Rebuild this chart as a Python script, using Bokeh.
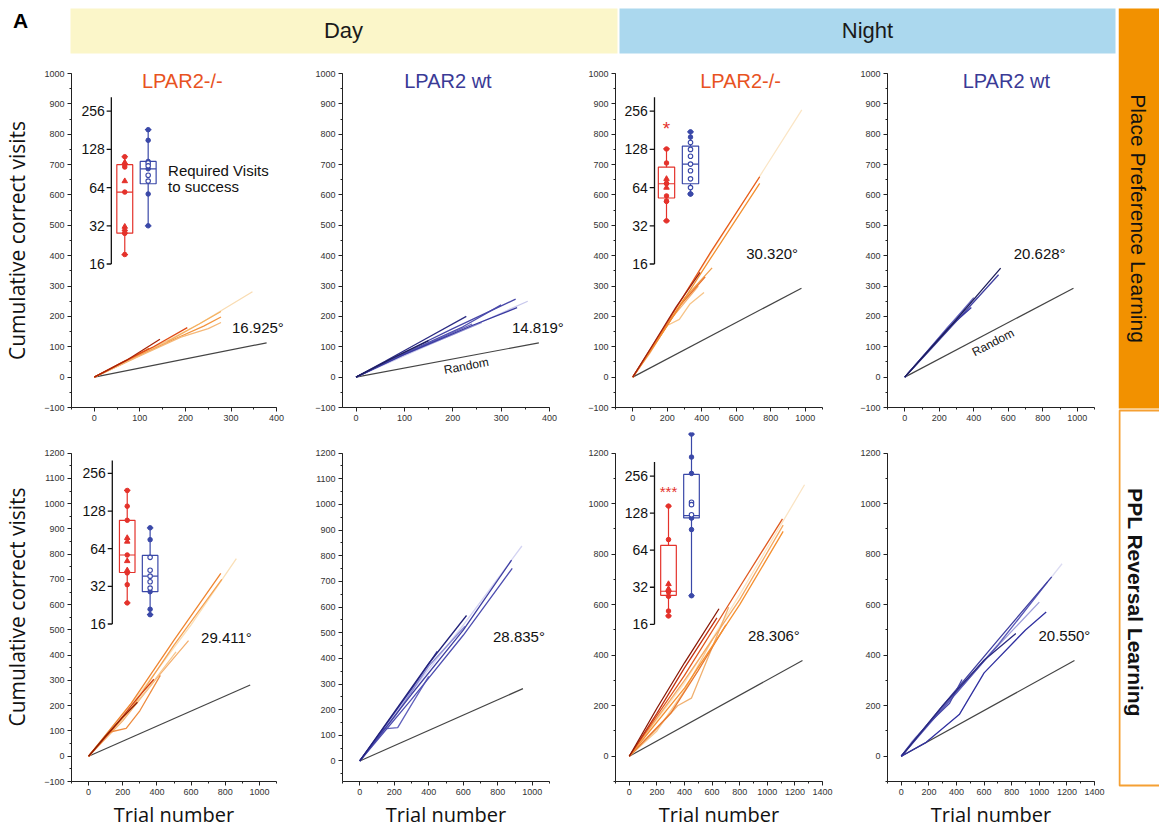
import math
from bokeh.plotting import figure
from bokeh.models import Range1d, LogScale, SingleIntervalTicker, Label
from bokeh.layouts import row, column
from bokeh.embed import file_html
from bokeh.resources import INLINE
from bokeh.core.properties import value

# ----------------------------- data -----------------------------
# Panel 1: Day, Place Preference Learning, LPAR2-/-
P1_X = [[0, 60, 140, 230, 347], [0, 80, 170, 230, 278], [0, 90, 180, 240, 278], [0, 100, 190, 250, 278],
        [0, 50, 100, 160], [0, 40, 80, 120], [0, 60, 130, 204], [0, 70, 144]]
P1_Y = [[0, 42, 105, 175, 281], [0, 60, 125, 175, 216], [0, 65, 128, 168, 198], [0, 70, 132, 160, 180],
        [0, 36, 78, 118], [0, 30, 62, 95], [0, 48, 100, 163], [0, 55, 125]]
# Panel 2: Day, PPL, LPAR2 wt
P2_X = [[0, 120, 250, 355], [0, 90, 200, 260], [0, 80, 170, 240], [0, 100, 220, 300],
        [0, 100, 240, 333], [0, 100, 200, 330], [0, 60, 120, 228], [0, 70, 150]]
P2_Y = [[0, 85, 175, 250], [0, 68, 140, 180], [0, 62, 125, 175], [0, 78, 165, 238],
        [0, 75, 170, 229], [0, 82, 160, 257], [0, 52, 105, 200], [0, 58, 120]]
# Panel 3: Night, PPL, LPAR2-/-
P3_X = [[0, 300, 600, 980], [0, 120, 200, 270, 330, 413], [0, 100, 220, 380], [0, 150, 300, 460],
        [0, 130, 280, 420], [0, 200, 450, 736], [0, 200, 450, 736], [0, 120, 250, 390]]
P3_Y = [[0, 270, 540, 880], [0, 100, 170, 190, 240, 279], [0, 80, 190, 300], [0, 130, 260, 360],
        [0, 110, 240, 330], [0, 170, 390, 638], [0, 180, 410, 660], [0, 110, 230, 345]]
# Panel 4: Night, PPL, LPAR2 wt
P4_X = [[0, 100, 200, 420], [0, 120, 250, 390], [0, 130, 260, 400], [0, 120, 240, 350],
        [0, 100, 250, 386], [0, 150, 300, 544], [0, 150, 300, 556]]
P4_Y = [[0, 62, 130, 265], [0, 78, 165, 250], [0, 85, 170, 262], [0, 75, 150, 225],
        [0, 65, 160, 229], [0, 92, 185, 337], [0, 95, 190, 359]]
# Panel 5: Day, Reversal, LPAR2-/-
P5_X = [[0, 300, 600, 865], [0, 200, 400, 585], [0, 150, 350, 512], [0, 120, 220, 300, 420],
        [0, 250, 500, 780], [0, 250, 500, 774], [0, 150, 280, 382], [0, 100, 200, 286]]
P5_Y = [[0, 250, 520, 782], [0, 140, 310, 458], [0, 110, 270, 413], [0, 95, 110, 180, 320],
        [0, 190, 440, 700], [0, 210, 460, 724], [0, 115, 225, 305], [0, 80, 155, 214]]
# Panel 6: Day, Reversal, LPAR2 wt
P6_X = [[0, 300, 600, 940], [0, 200, 400, 610], [0, 140, 220, 300, 400], [0, 300, 600, 884],
        [0, 300, 600, 880], [0, 150, 300, 449], [0, 200, 400, 619]]
P6_Y = [[0, 270, 530, 838], [0, 170, 370, 525], [0, 125, 130, 220, 330], [0, 240, 490, 751],
        [0, 260, 510, 783], [0, 140, 280, 427], [0, 190, 380, 567]]
# Panel 7: Night, Reversal, LPAR2-/-
P7_X = [[0, 400, 800, 1270], [0, 200, 400, 600], [0, 200, 350, 450, 720], [0, 300, 500, 700],
        [0, 400, 800, 1115], [0, 400, 800, 1115], [0, 400, 800, 1110], [0, 200, 400, 635], [0, 200, 400, 650]]
P7_Y = [[0, 290, 640, 1075], [0, 100, 260, 460], [0, 110, 200, 230, 590], [0, 170, 340, 520],
        [0, 270, 600, 890], [0, 300, 620, 915], [0, 320, 670, 940], [0, 170, 350, 548], [0, 190, 370, 584]]
# Panel 8: Night, Reversal, LPAR2 wt
P8_X = [[0, 400, 800, 1165], [0, 80, 300, 600, 1000], [0, 100, 400, 700], [0, 300, 700, 1060],
        [0, 300, 700, 1090], [0, 200, 350, 440], [0, 300, 600, 830], [0, 180, 420, 600, 900, 1050]]
P8_Y = [[0, 250, 510, 762], [0, 60, 190, 380, 610], [0, 70, 250, 440], [0, 190, 440, 690],
        [0, 200, 460, 710], [0, 130, 210, 304], [0, 200, 380, 486], [0, 55, 165, 330, 500, 571]]

# Random-choice reference lines (start, end)
RANDOM_PPL_DAY_X = [0, 378]
RANDOM_PPL_DAY_Y = [0, 113]
RANDOM_PPL_NIGHT_X = [0, 978]
RANDOM_PPL_NIGHT_Y = [0, 293]
RANDOM_REV_DAY_X = [0, 946]
RANDOM_REV_DAY_Y = [0, 282]
RANDOM_REV_NIGHT_X = [0, 1255]
RANDOM_REV_NIGHT_Y = [0, 379]

ANGLES = ["16.925°", "14.819°", "30.320°", "20.628°", "29.411°", "28.835°", "28.306°", "20.550°"]

# Inset: required visits to success (log2 axis)
INSET_TICKS = [16, 32, 64, 128, 256]
INSET_TICK_LABELS = ["16", "32", "64", "128", "256"]
# box = [min, q1, median, q3, max]
P1_RED_BOX = [19, 28, 59, 97, 112]
P1_RED_DOTS = [112, 97, 93, 59, 28, 28, 19]
P1_RED_TRI = [101, 72, 30, 31.5]
P1_BLUE_BOX = [32, 68.6, 90, 103, 183]
P1_BLUE_DOTS = [183, 151, 103, 90, 57, 32]
P1_BLUE_OPEN = [100, 95, 80, 72]

P3_RED_BOX = [35, 53, 68.6, 92.7, 129]
P3_RED_DOTS = [129, 100, 69, 69, 55, 50, 50, 35]
P3_RED_TRI = [75, 64]
P3_BLUE_BOX = [57, 68.6, 98, 136, 176]
P3_BLUE_DOTS = [176, 160, 57, 57]
P3_BLUE_OPEN = [145, 128, 113, 98, 87, 75, 64]

P5_RED_BOX = [23.6, 41.3, 57, 108, 187]
P5_RED_DOTS = [187, 140, 108, 57, 41, 33, 23.6]
P5_RED_TRI = [78, 73, 51, 43]
P5_BLUE_BOX = [19, 29, 38.6, 56.5, 94]
P5_BLUE_DOTS = [94, 75.6, 29, 21, 19]
P5_BLUE_OPEN = [54.6, 43, 38.6, 34.8, 31]

P7_RED_BOX = [18.7, 27.5, 29.7, 70, 146]
P7_RED_DOTS = [146, 78, 29.5, 29.5, 29.5, 27, 20.5, 18.7]
P7_RED_TRI = [34, 31]
P7_BLUE_BOX = [27.3, 117, 122, 264, 561]
P7_BLUE_DOTS = [561, 365, 269, 117, 117, 94, 27.3]
P7_BLUE_OPEN = [157, 150, 124]

# ----------------------------- styling -----------------------------
FONT = "Liberation Sans"
RED_TITLE = "#e8531f"
BLUE_TITLE = "#3a3a96"
BOX_RED = "#e4322b"
BOX_BLUE = "#3a48a8"

C1 = ["#f9dcb2", "#f4b060", "#f29540", "#f5b878", "#f6c48a", "#ea7430", "#e04a14", "#a82408"]
C2 = ["#c8c8ec", "#8c8cd0", "#6666bb", "#5050b0", "#3a3aa0", "#4848a8", "#2c2c84", "#1e1e5c"]
C3 = ["#fbe6c6", "#f7c488", "#f5b070", "#f0a050", "#e87028", "#f39030", "#e85a1a", "#9c2010"]
C4 = ["#c4c4ea", "#9090d0", "#6464bc", "#5050b0", "#3434a2", "#4040a0", "#1e1e5a"]
C5 = ["#fae0b8", "#f4b070", "#f7c890", "#ee8c40", "#f5a050", "#ef8530", "#d44010", "#8c1c04"]
C6 = ["#d4d4f2", "#8c8cd2", "#6262bc", "#4e4eb0", "#4040a2", "#3636a0", "#22227a"]
C7 = ["#fae4c4", "#f8c890", "#f0b070", "#e87830", "#f59030", "#f5a860", "#e05a20", "#c03010", "#8a1a08"]
C8 = ["#dcdcf2", "#a0a0da", "#7070c0", "#5a5ab8", "#4040a0", "#4848a8", "#2a2a80", "#3030a0"]


def make_panel(w, h, lb, rb, tb, bb, xr, yr, xint, yint, xs, ys, colors, rx, ry,
               angle_text, apos, title=None, tcolor=None, tx=None, ylabel=False,
               xlabel=False, random_pos=None, ext_x=False, ext_y=False):
    """xr / yr are the axis extents. With ext_x / ext_y the frame is widened into the
    right / top border so that text and inset marks may run past the axis ends."""
    fw = w - lb - rb
    fh = h - tb - bb
    ux = (xr[1] - xr[0]) / fw
    uy = (yr[1] - yr[0]) / fh
    x_end = xr[1] + (rb * ux if ext_x else 0)
    y_end = yr[1] + (tb * uy if ext_y else 0)
    p = figure(width=w, height=h, x_range=Range1d(xr[0], x_end), y_range=Range1d(yr[0], y_end),
               output_backend="svg", toolbar_location=None, title=None,
               min_border_left=lb, min_border_right=0 if ext_x else rb,
               min_border_top=0 if ext_y else tb, min_border_bottom=bb)
    p.outline_line_color = None
    p.grid.visible = False
    p.xaxis.ticker = SingleIntervalTicker(interval=xint, num_minor_ticks=2)
    p.yaxis.ticker = SingleIntervalTicker(interval=yint, num_minor_ticks=2)
    p.xaxis.bounds = xr
    p.yaxis.bounds = yr
    for ax in list(p.xaxis) + list(p.yaxis):
        ax.axis_line_color = "#222222"
        ax.major_tick_line_color = "#222222"
        ax.minor_tick_line_color = "#222222"
        ax.major_tick_in = 0
        ax.major_tick_out = 4
        ax.minor_tick_in = 0
        ax.minor_tick_out = 2
        ax.major_label_text_font_size = "9px"
        ax.major_label_text_font = FONT
        ax.major_label_text_color = "#333333"
        ax.major_label_standoff = 3
        ax.axis_label_text_font = "Open Sans"
        ax.axis_label_text_font_style = "normal"
        ax.axis_label_text_color = "#111111"
        ax.axis_label_standoff = 3
    if ylabel:
        p.yaxis.axis_label = "Cumulative correct visits"
        p.yaxis.axis_label_text_font_size = "21px"
        p.yaxis.axis_label_standoff = 10
    if xlabel:
        p.xaxis.axis_label = "Trial number"
        p.xaxis.axis_label_text_font_size = "20px"

    p.line(rx, ry, line_color="#444444", line_width=1.2)
    for x, y, c in zip(xs, ys, colors):
        p.line(x, y, line_color=c, line_width=1.3)

    p.add_layout(Label(x=apos[0], y=apos[1], text=angle_text, text_font=FONT,
                       text_font_size="15px", text_align="center", text_baseline="middle",
                       text_color="#111111"))
    if random_pos is not None:
        ang = math.atan((ry[1] / uy) / (rx[1] / ux))
        p.add_layout(Label(x=random_pos[0], y=random_pos[1], text="Random", angle=ang,
                           text_font=FONT, text_font_size="12px", text_align="center",
                           text_baseline="middle", text_color="#111111"))
    if title is not None:
        p.add_layout(Label(x=tx, y=yr[1] - 7 * uy, text=title, text_font=FONT,
                           text_font_size="20px", text_align="center",
                           text_baseline="middle", text_color=tcolor))
    # frame size in px (for the inset ranges) and extra px above the axis top
    p._frame_px = (fw + (rb if ext_x else 0), fh + (tb if ext_y else 0), tb if ext_y else 0)
    return p


def add_inset(p, red_off, spacing, axis_off, top256, ppd, axis_top,
              rbox, rdots, rtri, bbox, bdots, bopen, sig=None, sig_y=None, note=False):
    """top256: px from the axis top to the 256 tick; ppd: px per doubling."""
    frame_w, frame_h, extra_top = p._frame_px
    t256 = top256 + extra_top
    ixr = (1 - red_off / spacing, 1 + (frame_w - red_off) / spacing)
    iyr = (2 ** (8 - (frame_h - t256) / ppd), 2 ** (8 + t256 / ppd))
    axis_x = 1 - axis_off / spacing
    p.extra_x_ranges = {"ix": Range1d(*ixr)}
    p.extra_y_ranges = {"iy": Range1d(*iyr)}
    p.extra_y_scales = {"iy": LogScale()}
    kw = dict(x_range_name="ix", y_range_name="iy")
    p.segment(x0=[axis_x], y0=[INSET_TICKS[0]], x1=[axis_x], y1=[axis_top],
              line_color="#111111", line_width=1.3, **kw)
    n = len(INSET_TICKS)
    p.segment(x0=[axis_x - 0.2] * n, y0=INSET_TICKS, x1=[axis_x] * n, y1=INSET_TICKS,
              line_color="#111111", line_width=1.3, **kw)
    p.text(x=[axis_x - 0.28] * n, y=INSET_TICKS, text=INSET_TICK_LABELS,
           text_font=value(FONT), text_font_size=value("14px"), text_align="right",
           text_baseline="middle", text_color="#111111", **kw)
    hw = 0.34
    cap = 0.14
    for cx, box, col, dots, other, other_kind in (
            (1, rbox, BOX_RED, rdots, rtri, "tri"), (2, bbox, BOX_BLUE, bdots, bopen, "open")):
        mn, q1, med, q3, mx = box
        p.quad(left=[cx - hw], right=[cx + hw], bottom=[q1], top=[q3], fill_color=None,
               line_color=col, line_width=1.2, **kw)
        p.segment(x0=[cx - hw, cx, cx, cx - cap, cx - cap], y0=[med, q3, mn, mx, mn],
                  x1=[cx + hw, cx, cx, cx + cap, cx + cap], y1=[med, mx, q1, mx, mn],
                  line_color=col, line_width=1.2, **kw)
        p.scatter(x=[cx] * len(dots), y=dots, marker="circle", size=4.5, fill_color=col,
                  line_color=col, **kw)
        if other_kind == "tri":
            p.scatter(x=[cx] * len(other), y=other, marker="triangle", size=5.5,
                      fill_color=col, line_color=col, **kw)
        else:
            p.scatter(x=[cx] * len(other), y=other, marker="circle", size=4.5,
                      fill_color="white", line_color=col, line_width=1.1, **kw)
    if sig is not None:
        p.text(x=[1], y=[sig_y], text=[sig], text_font=value(FONT),
               text_font_size=value("19px" if sig == "*" else "15px"), text_align="center",
               text_baseline="middle", text_color=BOX_RED, **kw)
    if note:
        p.text(x=[2.85, 2.85], y=[87, 65], text=["Required Visits", "to success"],
               text_font=value(FONT), text_font_size=value("15px"), text_align="left",
               text_baseline="middle", text_color="#111111", **kw)


# ----------------------------- layout -----------------------------
HH = 54
H1, T1, B1 = 378, 19, 25
H2, T2, B2 = 398, 21, 43
COLS = [(305, 70, 29), (280, 37, 36), (272, 30, 35), (261, 29, 24)]


def cell(c, r):
    w, lb, rb = COLS[c]
    h, tb, bb = (H1, T1, B1) if r == 0 else (H2, T2, B2)
    return dict(w=w, h=h, lb=lb, rb=rb, tb=tb, bb=bb, ext_y=(r == 1))


p1 = make_panel(**cell(0, 0), xr=(-50, 400), yr=(-100, 1000), xint=100, yint=100,
                xs=P1_X, ys=P1_Y, colors=C1, rx=RANDOM_PPL_DAY_X, ry=RANDOM_PPL_DAY_Y,
                angle_text=ANGLES[0], apos=(359, 165), title="LPAR2-/-", tcolor=RED_TITLE,
                tx=193, ylabel=True, ext_x=True)
add_inset(p1, 53.5, 23.5, 13.5, 37.7, 38.2, 330, P1_RED_BOX, P1_RED_DOTS, P1_RED_TRI,
          P1_BLUE_BOX, P1_BLUE_DOTS, P1_BLUE_OPEN, note=True)

p2 = make_panel(**cell(1, 0), xr=(-28, 400), yr=(-100, 1000), xint=100, yint=100,
                xs=P2_X, ys=P2_Y, colors=C2, rx=RANDOM_PPL_DAY_X, ry=RANDOM_PPL_DAY_Y,
                angle_text=ANGLES[1], apos=(376, 165), title="LPAR2 wt", tcolor=BLUE_TITLE,
                tx=190, random_pos=(228, 37), ext_x=True)

p3 = make_panel(**cell(2, 0), xr=(-100, 1100), yr=(-100, 1000), xint=200, yint=100,
                xs=P3_X, ys=P3_Y, colors=C3, rx=RANDOM_PPL_NIGHT_X, ry=RANDOM_PPL_NIGHT_Y,
                angle_text=ANGLES[2], apos=(808, 407), title="LPAR2-/-", tcolor=RED_TITLE,
                tx=625)
add_inset(p3, 51, 24, 12, 37.7, 38.2, 330, P3_RED_BOX, P3_RED_DOTS, P3_RED_TRI,
          P3_BLUE_BOX, P3_BLUE_DOTS, P3_BLUE_OPEN, sig="*", sig_y=186)

p4 = make_panel(**cell(3, 0), xr=(-100, 1100), yr=(-100, 1000), xint=200, yint=100,
                xs=P4_X, ys=P4_Y, colors=C4, rx=RANDOM_PPL_NIGHT_X, ry=RANDOM_PPL_NIGHT_Y,
                angle_text=ANGLES[3], apos=(782, 407), title="LPAR2 wt", tcolor=BLUE_TITLE,
                tx=589, random_pos=(512, 114))

p5 = make_panel(**cell(0, 1), xr=(-100, 1100), yr=(-100, 1200), xint=200, yint=100,
                xs=P5_X, ys=P5_Y, colors=C5, rx=RANDOM_REV_DAY_X, ry=RANDOM_REV_DAY_Y,
                angle_text=ANGLES[4], apos=(807, 471), ylabel=True, xlabel=True)
add_inset(p5, 56, 23, 15, 20.6, 38.3, 325, P5_RED_BOX, P5_RED_DOTS, P5_RED_TRI,
          P5_BLUE_BOX, P5_BLUE_DOTS, P5_BLUE_OPEN)

p6 = make_panel(**cell(1, 1), xr=(-100, 1100), yr=(-80, 1200), xint=200, yint=100,
                xs=P6_X, ys=P6_Y, colors=C6, rx=RANDOM_REV_DAY_X, ry=RANDOM_REV_DAY_Y,
                angle_text=ANGLES[5], apos=(923, 484), xlabel=True)

p7 = make_panel(**cell(2, 1), xr=(-100, 1400), yr=(-100, 1200), xint=200, yint=200,
                xs=P7_X, ys=P7_Y, colors=C7, rx=RANDOM_REV_NIGHT_X, ry=RANDOM_REV_NIGHT_Y,
                angle_text=ANGLES[6], apos=(1048, 477), xlabel=True)
add_inset(p7, 53, 23, 14, 23.3, 37.7, 333, P7_RED_BOX, P7_RED_DOTS, P7_RED_TRI,
          P7_BLUE_BOX, P7_BLUE_DOTS, P7_BLUE_OPEN, sig="***", sig_y=192)

p8 = make_panel(**cell(3, 1), xr=(-100, 1400), yr=(-100, 1200), xint=200, yint=200,
                xs=P8_X, ys=P8_Y, colors=C8, rx=RANDOM_REV_NIGHT_X, ry=RANDOM_REV_NIGHT_Y,
                angle_text=ANGLES[7], apos=(1182, 477), xlabel=True)

# header with Day / Night bands
HW = sum(c[0] for c in COLS)
hdr = figure(width=HW, height=HH, x_range=Range1d(0, HW), y_range=Range1d(0, HH),
             output_backend="svg", toolbar_location=None, title=None,
             x_axis_type=None, y_axis_type=None, min_border=0)
hdr.outline_line_color = None
hdr.grid.visible = False
hdr.quad(left=[70], right=[617], bottom=[1], top=[46], fill_color="#fbf6c9", line_color=None)
hdr.quad(left=[619], right=[1115], bottom=[1], top=[46], fill_color="#abd8ee", line_color=None)
hdr.text(x=[343, 867], y=[24, 24], text=["Day", "Night"], text_font=value(FONT),
         text_font_size=value("22px"), text_align="center", text_baseline="middle",
         text_color="#1a1a1a")
hdr.text(x=[20], y=[34], text=["A"], text_font=value(FONT),
         text_font_size=value("21px"), text_font_style="bold", text_align="center",
         text_baseline="middle", text_color="#000000")

# right side labels
SW, SH = 41, HH + H1 + H2
side = figure(width=SW, height=SH, x_range=Range1d(0, SW), y_range=Range1d(0, SH),
              output_backend="svg", toolbar_location=None, title=None,
              x_axis_type=None, y_axis_type=None, min_border=0)
side.outline_line_color = None
side.grid.visible = False
side.quad(left=[0], right=[60], bottom=[SH - 408], top=[SH - 8], fill_color="#f29100", line_color=None)
side.quad(left=[1], right=[60], bottom=[SH - 785], top=[SH - 410], fill_color="white",
          line_color="#f5a033", line_width=2)
side.text(x=[20], y=[SH - 218], text=["Place Preference Learning"], angle=-math.pi / 2,
          text_font=value(FONT), text_font_size=value("21px"),
          text_align="center", text_baseline="middle", text_color="#111111")
side.text(x=[17], y=[SH - 602], text=["PPL Reversal Learning"], angle=-math.pi / 2,
          text_font=value(FONT), text_font_size=value("21px"),
          text_font_style="bold", text_align="center", text_baseline="middle",
          text_color="#111111")

main = column(hdr, row(p1, p2, p3, p4), row(p5, p6, p7, p8))
layout = row(main, side)

open("out.html", "w").write(file_html(layout, INLINE))
